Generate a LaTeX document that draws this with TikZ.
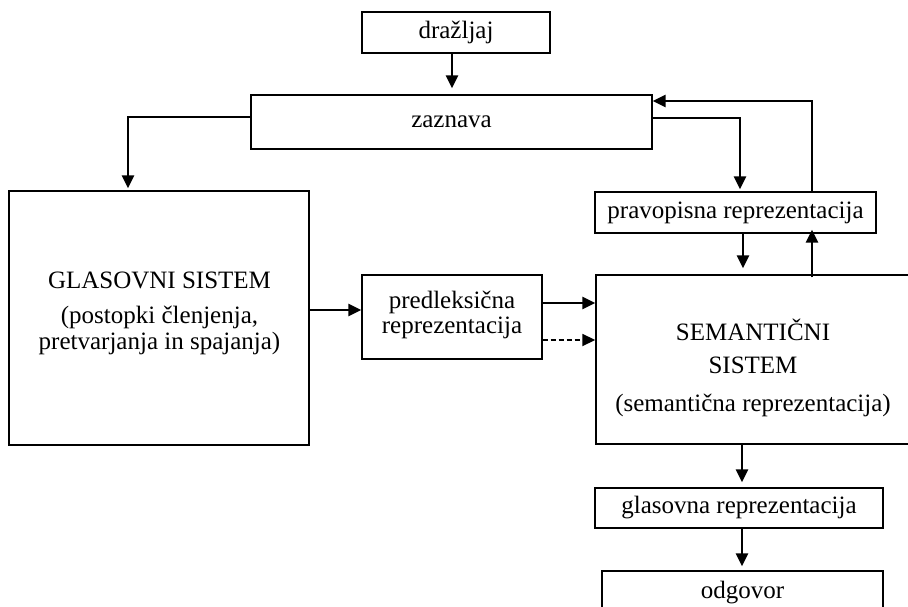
\documentclass[tikz,border=0pt]{standalone}
\usepackage{fontspec}
\setmainfont{Liberation Serif}
\usetikzlibrary{arrows.meta}
\begin{document}
\begin{tikzpicture}[x=1pt,y=-1pt,
  box/.style={draw,line width=1.4pt,rectangle,inner sep=0pt,align=center,
    font=\fontsize{25}{27}\selectfont},
  txt/.style={anchor=base,inner sep=0pt,font=\fontsize{25}{27}\selectfont},
  arr/.style={line width=2.5pt,-{Triangle[length=13pt,width=12pt]}},
  darr/.style={arr,line width=1.8pt,dash pattern=on 5pt off 3pt}]
\useasboundingbox (0,0) rectangle (908,607);
\clip (0,0) rectangle (908,607);
\fill[white] (0,0) rectangle (908,607);
\node[box,minimum width=188pt,minimum height=41pt] (draz) at (456,32.5) {dražljaj};
\node[box,minimum width=401pt,minimum height=54pt] (zaz) at (451.5,122) {zaznava};
\node[box,minimum width=300pt,minimum height=254pt] (glas) at (159,318) {};
\node[txt] (glas1) at (159.5,288) {GLASOVNI SISTEM};
\node[txt] (glas2) at (159.5,323) {(postopki členjenja,};
\node[txt] (glas3) at (159.5,349) {pretvarjanja in spajanja)};
\node[box,minimum width=281pt,minimum height=41pt] (pravo) at (735.5,212.5) {pravopisna reprezentacija};
\node[box,minimum width=180pt,minimum height=84pt] (pred) at (452,317) {};
\node[txt] (pred1) at (452,308) {predleksična};
\node[txt] (pred2) at (452,333) {reprezentacija};
\node[box,minimum width=314pt,minimum height=169pt] (sem) at (753,359.5) {};
\node[txt] (sem1) at (753,340) {SEMANTIČNI};
\node[txt] (sem2) at (753,373) {SISTEM};
\node[txt] (sem3) at (753,411) {(semantična reprezentacija)};
\node[box,minimum width=288pt,minimum height=40pt] (glasr) at (739,508) {glasovna reprezentacija};
\node[box,minimum width=281pt,minimum height=44pt] (odg) at (742.5,593) {odgovor};
% connectors
\draw[arr] (draz.south -| 452,0) -- ([yshift=6pt]zaz.north -| 452,0);
\draw[arr] (zaz.west |- 0,117) -| ([xshift=-31pt,yshift=2pt]glas.north);
\draw[arr] (zaz.east |- 0,118) -| ([xshift=4.5pt,yshift=2pt]pravo.north);
\draw[arr] ([xshift=76.5pt]pravo.north) |- (zaz.east |- 0,101);
\draw[arr] (pravo.south -| 743,0) -- ([yshift=6pt]sem.north -| 743,0);
\draw[arr] ([yshift=-3pt]sem.north -| 812,0) -- ([yshift=4pt]pravo.south -| 812,0);
\draw[arr] (glas.east |- 0,310) -- (pred.west |- 0,310);
\draw[arr] (pred.east |- 0,303) -- (sem.west |- 0,303);
\draw[darr] (pred.east |- 0,340) -- (sem.west |- 0,340);
\draw[arr] (sem.south -| 742,0) -- ([yshift=5pt]glasr.north -| 742,0);
\draw[arr] (glasr.south -| 742,0) -- ([yshift=4pt]odg.north -| 742,0);
\end{tikzpicture}
\end{document}
